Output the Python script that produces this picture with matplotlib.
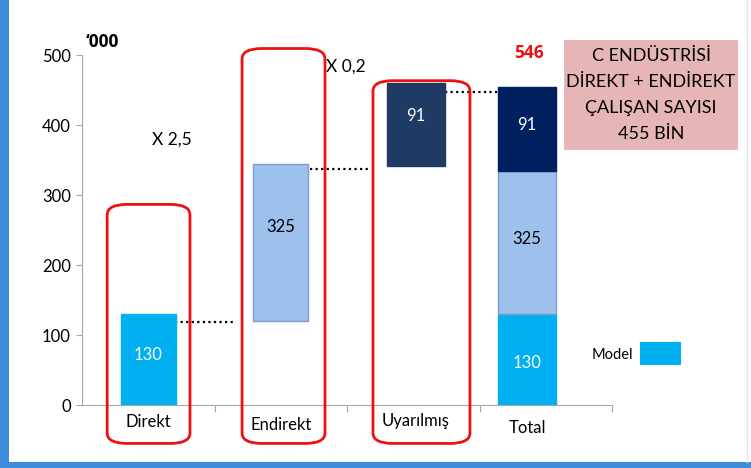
import matplotlib
matplotlib.use("Agg")
import matplotlib.pyplot as plt
from matplotlib.patches import FancyBboxPatch, Rectangle

# ================= Data =================
categories = ["Direkt", "Endirekt", "Uyarılmış", "Total"]
step_labels = ["130", "325", "91"]
step_bottoms = [0, 120, 342]          # floating bars as drawn ('000)
step_heights = [130, 225, 119]
total_parts = [130, 205, 120]         # stacked Total bar segments
total_labels = ["130", "325", "91"]
total_value = "546"
multipliers = ["X 2,5", "X 0,2"]
yticks = [0, 100, 200, 300, 400, 500]
info_lines = ["C ENDÜSTRİSİ", "DİREKT + ENDİREKT", "ÇALIŞAN SAYISI", "455 BİN"]

# ================= Style =================
FONT = ["Lato", "DejaVu Sans"]
BOLD = ["Open Sans", "DejaVu Sans"]
plt.rcParams["font.family"] = FONT
C_DIR = "#00B0F0"
C_END = "#9DC0EC"
C_UYA = "#1F3A63"
C_TOT = "#002060"
RED = "#F01010"

fig = plt.figure(figsize=(7.51, 4.68), dpi=100)
W, H = 751, 468
ax = fig.add_axes([82 / W, (H - 405) / H, 530 / W, 349.5 / H])
ax.set_xlim(-0.5, 3.5)
ax.set_ylim(0, 500)

# bar positions (category slots, the Total bar sits left of its slot centre)
xpos = [0.0, 1.0, 2.02, 2.86]
widths = [0.415, 0.415, 0.44, 0.44]
colors = [C_DIR, C_END, C_UYA]
edges = [C_DIR, "#7C9CC8", C_UYA]
txtcol = ["white", "black", "white"]

for i in range(3):
    ax.bar(xpos[i], step_heights[i], bottom=step_bottoms[i], width=widths[i],
           color=colors[i], edgecolor=edges[i], linewidth=1.0, zorder=3)
    ax.text(xpos[i], step_bottoms[i] + step_heights[i] * (0.55 if i == 0 else 0.6),
            step_labels[i], ha="center", va="center", fontsize=12,
            color=txtcol[i], zorder=4)

bot = 0
tcolors = [C_DIR, C_END, C_TOT]
tedges = [C_DIR, "#7C9CC8", C_TOT]
for i, h in enumerate(total_parts):
    ax.bar(xpos[3], h, bottom=bot, width=widths[3], color=tcolors[i],
           edgecolor=tedges[i], linewidth=1.0, zorder=3)
    ax.text(xpos[3], bot + h / 2 - (5 if i == 0 else -5), total_labels[i],
            ha="center", va="center", fontsize=12, color=txtcol[i], zorder=4)
    bot += h

# dotted connectors
conn = [(0.2, 0.66, 119), (1.22, 1.68, 337), (2.24, 2.64, 448)]
for x0, x1, y in conn:
    ax.plot([x0, x1], [y, y], color="black", linestyle=(0, (1, 1.5)),
            linewidth=1.6, zorder=2)

# red rounded frames
frames = [(-0.31, 0.315, -55, 287), (0.708, 1.334, -55, 510), (1.696, 2.428, -55, 464)]
for x0, x1, y0, y1 in frames:
    p = FancyBboxPatch((x0, y0), x1 - x0, y1 - y0,
                       boxstyle="round,pad=0,rounding_size=0.15",
                       mutation_aspect=100, facecolor="none", edgecolor=RED,
                       linewidth=2.0, clip_on=False, zorder=5)
    ax.add_patch(p)

# annotations
ax.text(0.18, 380, multipliers[0], ha="center", va="center", fontsize=12.5)
ax.text(1.34, 484, multipliers[1], ha="left", va="center", fontsize=12.5)
ax.text(2.87, 503, total_value, ha="center", va="center", fontsize=12.5,
        fontweight="bold", family=BOLD, color=RED, clip_on=False)

# axes styling
for s in ["top", "right"]:
    ax.spines[s].set_visible(False)
ax.spines["left"].set_color("#A6A6A6")
ax.spines["bottom"].set_color("#A6A6A6")
ax.set_yticks(yticks)
ax.tick_params(axis="y", labelsize=12, color="#A6A6A6", length=4, pad=4)
ax.set_xticks([0.5, 1.5, 2.5, 3.5])
ax.set_xticklabels([])
ax.tick_params(axis="x", color="#A6A6A6", length=5)
label_y = [-24, -28, -23, -33]
label_x = [0, 1, 2.02, 2.86]
for x, y, c in zip(label_x, label_y, categories):
    ax.text(x, y, c, ha="center", va="center", fontsize=12, clip_on=False)

# figure-level decorations
fig.text(86 / W, 1 - 42 / H, "‘000", ha="left", va="center", fontsize=12.5,
         fontweight="bold", family=BOLD)
fig.patches.append(Rectangle((564 / W, 1 - 150 / H), 174 / W, 110 / H,
                             transform=fig.transFigure, facecolor="#E6B5B5",
                             edgecolor="none"))
for k, line in enumerate(info_lines):
    fig.text(651 / W, 1 - (56 + 26 * k) / H, line, ha="center", va="center",
             fontsize=13)
fig.text(612 / W, 1 - 355 / H, "Model", ha="center", va="center", fontsize=10.5)
fig.patches.append(Rectangle((640 / W, 1 - 365 / H), 41 / W, 23 / H,
                             transform=fig.transFigure, facecolor=C_DIR,
                             edgecolor="none"))

# blue slide frame
fig.patches.append(Rectangle((0, 0), 9 / W, 1, transform=fig.transFigure,
                             facecolor="#3A8DD8", edgecolor="none"))
fig.patches.append(Rectangle((0, 0), 1, 6 / H, transform=fig.transFigure,
                             facecolor="#3A8DD8", edgecolor="none"))
fig.lines.append(plt.Line2D([747 / W, 747 / W], [6 / H, 1],
                            transform=fig.transFigure, color="#E4E4E4",
                            linewidth=1))

fig.savefig("out.png", dpi=100)
